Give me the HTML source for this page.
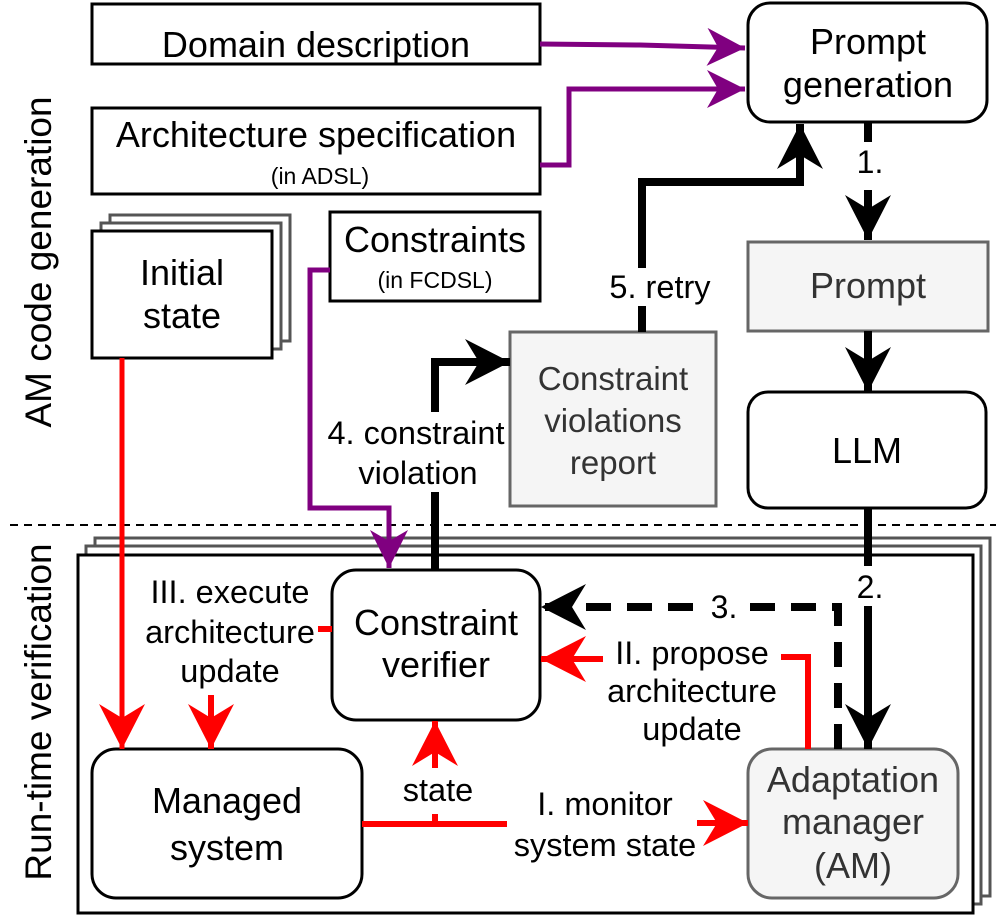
<!DOCTYPE html>
<html><head><meta charset="utf-8"><style>
html,body{margin:0;padding:0;background:#fff;}
svg{display:block;}
text{font-family:"Liberation Sans",Arial,sans-serif;}
</style></head><body>
<svg width="996" height="922" viewBox="0 0 996 922" xmlns="http://www.w3.org/2000/svg">
<defs>
<marker id="mb" markerUnits="userSpaceOnUse" markerWidth="46" markerHeight="46" refX="45" refY="23" orient="auto"><path d="M0,0 L45,23 L0,46 L14,23 Z" fill="#000"/></marker>
<marker id="mr" markerUnits="userSpaceOnUse" markerWidth="46" markerHeight="46" refX="45" refY="23" orient="auto"><path d="M0,0 L45,23 L0,46 L14,23 Z" fill="#f00"/></marker>
<marker id="mp" markerUnits="userSpaceOnUse" markerWidth="38" markerHeight="38" refX="38" refY="19" orient="auto"><path d="M0,0 L38,19 L0,38 L11,19 Z" fill="#800080"/></marker>
</defs>

<text x="0" y="0" font-size="37" text-anchor="middle" transform="translate(51,262) rotate(-90)">AM code generation</text>
<text x="0" y="0" font-size="37" text-anchor="middle" transform="translate(51,712) rotate(-90)">Run-time verification</text>

<line x1="10" y1="525" x2="996" y2="525" stroke="#000" stroke-width="2" stroke-dasharray="8,6"/>

<rect x="95" y="538" width="895" height="358" fill="#fff" stroke="#555" stroke-width="3"/>
<rect x="86" y="546" width="895" height="358" fill="#fff" stroke="#555" stroke-width="3"/>
<rect x="78" y="555" width="895" height="358" fill="#fff" stroke="#000" stroke-width="3"/>

<rect x="92" y="4" width="448" height="60" fill="#fff" stroke="#000" stroke-width="3"/>
<text x="316" y="57" font-size="36" text-anchor="middle">Domain description</text>
<rect x="92" y="108" width="448" height="86" fill="#fff" stroke="#000" stroke-width="3"/>
<text x="316" y="147" font-size="36" text-anchor="middle">Architecture specification</text>
<text x="320" y="184" font-size="23" text-anchor="middle">(in ADSL)</text>

<rect x="748" y="3" width="239" height="119" rx="22" fill="#fff" stroke="#000" stroke-width="3"/>
<text x="868" y="54" font-size="36" text-anchor="middle">Prompt</text>
<text x="868" y="97" font-size="36" text-anchor="middle">generation</text>

<rect x="748" y="242" width="240" height="89" fill="#f5f5f5" stroke="#666" stroke-width="3"/>
<text x="868" y="298" font-size="36" text-anchor="middle" fill="#333">Prompt</text>

<rect x="748" y="392" width="238" height="116" rx="20" fill="#fff" stroke="#000" stroke-width="3"/>
<text x="867" y="463" font-size="36" text-anchor="middle">LLM</text>

<rect x="110" y="215" width="180" height="126" fill="#fff" stroke="#555" stroke-width="3"/>
<rect x="101" y="223" width="180" height="126" fill="#fff" stroke="#555" stroke-width="3"/>
<rect x="92" y="231" width="180" height="127" fill="#fff" stroke="#000" stroke-width="3"/>
<text x="182" y="285" font-size="36" text-anchor="middle">Initial</text>
<text x="182" y="328" font-size="36" text-anchor="middle">state</text>

<rect x="330" y="212" width="210" height="89" fill="#fff" stroke="#000" stroke-width="3"/>
<text x="435" y="252" font-size="36" text-anchor="middle">Constraints</text>
<text x="435" y="288" font-size="23" text-anchor="middle">(in FCDSL)</text>

<rect x="510" y="332" width="206" height="174" fill="#f5f5f5" stroke="#666" stroke-width="3"/>
<text x="613" y="390" font-size="33" text-anchor="middle" fill="#333">Constraint</text>
<text x="613" y="432" font-size="33" text-anchor="middle" fill="#333">violations</text>
<text x="613" y="474" font-size="33" text-anchor="middle" fill="#333">report</text>

<rect x="332" y="570" width="208" height="150" rx="24" fill="#fff" stroke="#000" stroke-width="3"/>
<text x="436" y="635" font-size="36" text-anchor="middle">Constraint</text>
<text x="436" y="677" font-size="36" text-anchor="middle">verifier</text>

<rect x="92" y="749" width="270" height="149" rx="24" fill="#fff" stroke="#000" stroke-width="3"/>
<text x="227" y="813" font-size="36" text-anchor="middle">Managed</text>
<text x="227" y="860" font-size="36" text-anchor="middle">system</text>

<rect x="748" y="749" width="210" height="149" rx="24" fill="#f5f5f5" stroke="#666" stroke-width="3"/>
<text x="853" y="792" font-size="36" text-anchor="middle" fill="#333">Adaptation</text>
<text x="853" y="834" font-size="36" text-anchor="middle" fill="#333">manager</text>
<text x="853" y="878" font-size="36" text-anchor="middle" fill="#333">(AM)</text>

<path d="M540,44 L640,45 L745,48" fill="none" stroke="#800080" stroke-width="5" marker-end="url(#mp)"/>
<path d="M540,165 L569,165 L569,89 L745,89" fill="none" stroke="#800080" stroke-width="5" marker-end="url(#mp)"/>
<path d="M330,270 L310,270 L310,508 L389,508 L389,568" fill="none" stroke="#800080" stroke-width="5" marker-end="url(#mp)"/>

<path d="M868,122 L868,240" fill="none" stroke="#000" stroke-width="8" stroke-dasharray="20,14" marker-end="url(#mb)"/>
<rect x="850" y="143" width="38" height="36" fill="#fff"/>
<text x="870" y="173" font-size="32" text-anchor="middle">1.</text>
<path d="M868,331 L868,392" fill="none" stroke="#000" stroke-width="8" marker-end="url(#mb)"/>
<path d="M868,508 L868,749" fill="none" stroke="#000" stroke-width="8" marker-end="url(#mb)"/>
<rect x="850" y="566" width="38" height="40" fill="#fff"/>
<text x="870" y="598" font-size="32" text-anchor="middle">2.</text>

<path d="M838,749 L838,607 L541,607" fill="none" stroke="#000" stroke-width="8" stroke-dasharray="25,16" marker-end="url(#mb)"/>
<rect x="708" y="588" width="32" height="38" fill="#fff"/>
<text x="724" y="618" font-size="32" text-anchor="middle">3.</text>

<path d="M435,570 L435,362 L510,362" fill="none" stroke="#000" stroke-width="8" marker-end="url(#mb)"/>
<rect x="326" y="412" width="156" height="80" fill="#fff"/>
<text x="416" y="444" font-size="32.5" text-anchor="middle">4. constraint</text>
<text x="418" y="484" font-size="32.5" text-anchor="middle">violation</text>

<path d="M642,332 L642,182 L800,182 L800,124" fill="none" stroke="#000" stroke-width="8" marker-end="url(#mb)"/>
<rect x="603" y="268" width="114" height="38" fill="#fff"/>
<text x="660" y="298" font-size="32.5" text-anchor="middle">5. retry</text>

<path d="M122,358 L122,749" fill="none" stroke="#f00" stroke-width="5" marker-end="url(#mr)"/>
<line x1="318" y1="629" x2="332" y2="629" stroke="#f00" stroke-width="6"/>
<text x="230" y="603" font-size="32.5" text-anchor="middle">III. execute</text>
<text x="230" y="643" font-size="32.5" text-anchor="middle">architecture</text>
<text x="230" y="682" font-size="32.5" text-anchor="middle">update</text>
<path d="M211,695 L211,749" fill="none" stroke="#f00" stroke-width="6" marker-end="url(#mr)"/>

<path d="M808,749 L808,657 L781,657" fill="none" stroke="#f00" stroke-width="6"/>
<path d="M603,659 L541,659" fill="none" stroke="#f00" stroke-width="6" marker-end="url(#mr)"/>
<text x="692" y="664" font-size="32.5" text-anchor="middle">II. propose</text>
<text x="692" y="702" font-size="32.5" text-anchor="middle">architecture</text>
<text x="692" y="740" font-size="32.5" text-anchor="middle">update</text>

<line x1="362" y1="824" x2="507" y2="824" stroke="#f00" stroke-width="6"/>
<line x1="435" y1="814" x2="435" y2="824" stroke="#f00" stroke-width="6"/>
<path d="M435,768 L435,721" fill="none" stroke="#f00" stroke-width="6" marker-end="url(#mr)"/>
<text x="438" y="801" font-size="32.5" text-anchor="middle">state</text>
<path d="M697,823 L748,823" fill="none" stroke="#f00" stroke-width="6" marker-end="url(#mr)"/>
<text x="605" y="815" font-size="32.5" text-anchor="middle">I. monitor</text>
<text x="605" y="856" font-size="32.5" text-anchor="middle">system state</text>
</svg>
</body></html>
